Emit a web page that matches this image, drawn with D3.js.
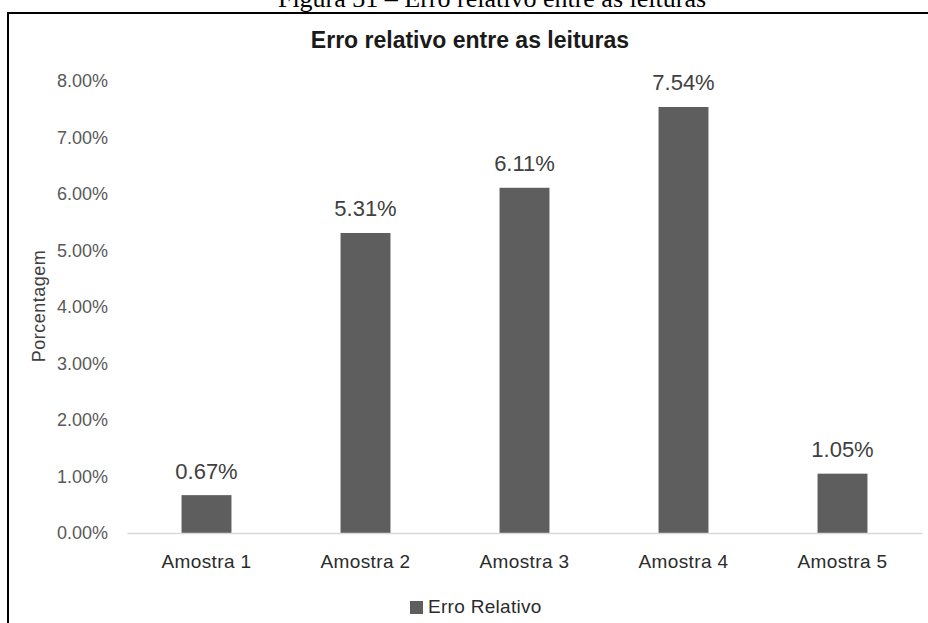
<!DOCTYPE html>
<html>
<head>
<meta charset="utf-8">
<script src="https://cdn.jsdelivr.net/npm/d3@7"></script>
<style>
  html, body { margin: 0; padding: 0; background: #fff; }
  svg { display: block; }
</style>
</head>
<body>
<svg id="chart" width="928" height="623"></svg>
<script>
// Relative error per sample (fractions)
const categories = ["Amostra 1", "Amostra 2", "Amostra 3", "Amostra 4", "Amostra 5"];
const erroRelativo = [0.0067, 0.0531, 0.0611, 0.0754, 0.0105];
const yTicks = [0, 0.01, 0.02, 0.03, 0.04, 0.05, 0.06, 0.07, 0.08];

const caption = "Figura 31 – Erro relativo entre as leituras";
const chartTitle = "Erro relativo entre as leituras";
const yTitle = "Porcentagem";
const seriesName = "Erro Relativo";

const svg = d3.select("#chart");
const sans = "'Liberation Sans', Arial, sans-serif";
const barColor = "#5e5e5e";

// Figure caption above the frame
svg.append("text")
  .attr("x", 492).attr("y", 7)
  .attr("text-anchor", "middle")
  .attr("font-family", "'Liberation Serif', 'Times New Roman', serif")
  .attr("font-size", 26)
  .attr("fill", "#000")
  .text(caption);

// Chart frame (top and left edges visible)
svg.append("path")
  .attr("d", "M8,1000 V13 H1000")
  .attr("fill", "none")
  .attr("stroke", "#000")
  .attr("stroke-width", 2);

// Chart title
svg.append("text")
  .attr("x", 470).attr("y", 48)
  .attr("text-anchor", "middle")
  .attr("font-family", sans)
  .attr("font-weight", "bold")
  .attr("font-size", 23)
  .attr("fill", "#1a1a1a")
  .text(chartTitle);

const x = d3.scaleBand()
  .domain(categories)
  .range([127, 922])
  .paddingInner(0.686)
  .paddingOuter(0.343);

const y = d3.scaleLinear()
  .domain([0, 0.08])
  .range([533, 81]);

// Y axis tick labels (no line, no tick marks)
const yAxis = svg.append("g")
  .attr("transform", "translate(108,0)")
  .call(d3.axisLeft(y).tickValues(yTicks).tickFormat(d3.format(".2%")).tickSize(0).tickPadding(0));
yAxis.select(".domain").remove();
yAxis.selectAll("text")
  .attr("font-family", sans)
  .attr("font-size", 18)
  .attr("fill", "#595959");

// Y axis title
svg.append("text")
  .attr("transform", "translate(45,306) rotate(-90)")
  .attr("text-anchor", "middle")
  .attr("font-family", sans)
  .attr("font-size", 18)
  .attr("letter-spacing", 0.5)
  .attr("fill", "#404040")
  .text(yTitle);

const data = categories.map((c, i) => ({ cat: c, v: erroRelativo[i] }));

// Bars
svg.append("g").selectAll("rect")
  .data(data)
  .join("rect")
  .attr("x", d => x(d.cat))
  .attr("y", d => y(d.v))
  .attr("width", x.bandwidth())
  .attr("height", d => y(0) - y(d.v))
  .attr("fill", barColor);

// Baseline axis
const xAxis = svg.append("g")
  .attr("transform", `translate(0,${y(0)})`)
  .call(d3.axisBottom(x).tickSize(0).tickPadding(0));
xAxis.select(".domain")
  .attr("stroke", "#d9d9d9")
  .attr("stroke-width", 1.5);
xAxis.selectAll("text")
  .attr("dy", 0)
  .attr("y", 35)
  .attr("font-family", sans)
  .attr("font-size", 19)
  .attr("letter-spacing", 0.4)
  .attr("fill", "#2b2b2b");

// Value labels
svg.append("g").selectAll("text")
  .data(data)
  .join("text")
  .attr("x", d => x(d.cat) + x.bandwidth() / 2)
  .attr("y", d => y(d.v) - 16.5)
  .attr("text-anchor", "middle")
  .attr("font-family", sans)
  .attr("font-size", 22)
  .attr("fill", "#404040")
  .text(d => d3.format(".2%")(d.v));

// Legend
const legend = svg.append("g");
legend.append("rect")
  .attr("x", 410).attr("y", 601)
  .attr("width", 13).attr("height", 13)
  .attr("fill", barColor);
legend.append("text")
  .attr("x", 428).attr("y", 613)
  .attr("font-family", sans)
  .attr("font-size", 19)
  .attr("letter-spacing", 0.3)
  .attr("fill", "#2b2b2b")
  .text(seriesName);
</script>
</body>
</html>
